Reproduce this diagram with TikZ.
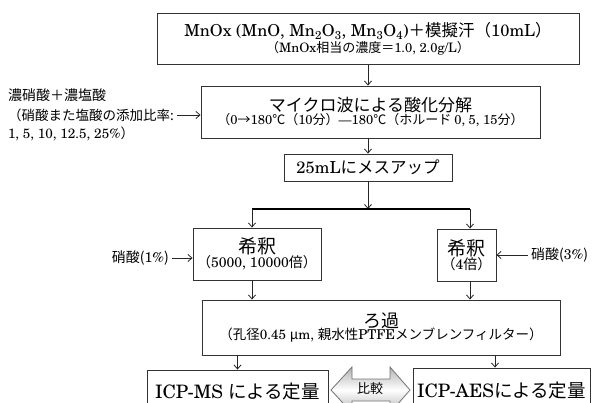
\documentclass[tikz,border=0pt]{standalone}
\usepackage{fontspec}
\setmainfont{TeX Gyre Schola}
\newfontfamily\jp{Noto Sans CJK JP}
\usetikzlibrary{arrows.meta}
\begin{document}
\begin{tikzpicture}[x=1pt,y=-1pt,
  box/.style={draw=black!80, line width=0.9pt, inner sep=0pt, align=center, fill=white},
  arr/.style={-{Straight Barb[length=4pt,width=7pt]}, line width=0.8pt, draw=black!85},
  lbl/.style={inner sep=0pt, anchor=west}]
\useasboundingbox (0,0) rectangle (593,403);
\clip (0,0) rectangle (593,403);

% top box
\node[box, minimum width=422pt, minimum height=51pt] (top) at (368,39)
 {{\fontsize{16.5}{22}\selectfont MnOx (MnO, Mn\textsubscript{2}O\textsubscript{3}, Mn\textsubscript{3}O\textsubscript{4}){\jp ＋模擬汗（}10mL{\jp ）}}\\[1pt]
  {\fontsize{13}{15}\selectfont {\jp （}MnOx{\jp 相当の濃度＝}1.0, 2.0g/L{\jp ）}}};

% microwave box
\node[box, minimum width=339pt, minimum height=52pt] (mw) at (370.5,112)
 {{\fontsize{17}{22}\selectfont\jp マイクロ波による酸化分解}\\[-1pt]
  {\fontsize{13}{16}\selectfont {\jp （}0{\jp →}180{\jp ℃（}10{\jp 分）}—180{\jp ℃（ホルード }0, 5, 15{\jp 分）}}};

% left label
\node[lbl] (l1) at (8,95) {\fontsize{14}{16}\selectfont\jp 濃硝酸＋濃塩酸};
\node[lbl] (l2) at (8,115) {\fontsize{13.5}{16}\selectfont\jp （硝酸また塩酸の添加比率:};
\node[lbl] (l3) at (8,134) {\fontsize{13.5}{16}\selectfont 1, 5, 10, 12.5, 25\%{\jp ）}};
\draw[arr] (l2.east) ++(3,0) coordinate (l2a) -- (l2a -| mw.west);

% 25 mL box
\node[box, minimum width=168pt, minimum height=27pt] (ms) at (368,167.5)
 {\fontsize{16.5}{20}\selectfont 25mL{\jp にメスアップ}};

% split line
\coordinate (sp) at (368,209);
\coordinate (spl) at (252,209);
\coordinate (spr) at (470,209);
\draw[arr] (top.south) -- (mw.north -| top.south);
\draw[arr] (mw.south -| ms.north) -- (ms.north);
\draw[arr] (ms.south) -- (sp);
\draw[line width=2.4pt] (spl) -- (spr);

% dilution boxes
\node[box, minimum width=128pt, minimum height=52pt] (lb) at (257,254)
 {{\fontsize{19}{22}\selectfont\jp 希釈}\\[-1pt]
  {\fontsize{14}{16}\selectfont {\jp （}5000, 10000{\jp 倍）}}};
\node[box, minimum width=59pt, minimum height=52pt] (rb) at (466.5,255)
 {{\fontsize{19}{22}\selectfont\jp 希釈}\\[-1pt]
  {\fontsize{14}{16}\selectfont {\jp （}4{\jp 倍）}}};
\draw[arr] (spl) -- (spl |- lb.north);
\draw[arr] (spr) -- (spr |- rb.north);

\node[lbl, anchor=east] (n1) at (169,258) {\fontsize{14}{16}\selectfont {\jp 硝酸(}1\%{\jp )}};
\node[lbl] (n3) at (531,255) {\fontsize{14}{16}\selectfont {\jp 硝酸(}3\%{\jp )}};
\draw[arr] (n1.east) ++(3,0) coordinate (n1a) -- (n1a -| lb.west);
\draw[arr] (n3.west) ++(-3,0) coordinate (n3a) -- (n3a -| rb.east);

% filtration
\node[box, minimum width=358pt, minimum height=55pt] (fl) at (381,327.5)
 {{\fontsize{18}{22}\selectfont\jp ろ過}\\[-1pt]
  {\fontsize{13.5}{16}\selectfont {\jp （孔径}0.45 {\jp μ}m, {\jp 親水性}PTFE{\jp メンブレンフィルター）}}};
\draw[arr] (spl |- lb.south) -- (spl |- fl.north);
\draw[arr] (spr |- rb.south) -- (spr |- fl.north);

% bottom boxes
\node[box, minimum width=181pt, minimum height=44pt] (ic1) at (237.5,392)
 {\fontsize{18.5}{22}\selectfont ICP-MS {\jp による定量}};
\node[box, minimum width=177pt, minimum height=46pt] (ic2) at (501.5,391)
 {\fontsize{18.5}{22}\selectfont ICP-AES{\jp による定量}};
\draw[arr] (ic1.north |- fl.south) -- (ic1.north);
\draw[arr] (495,0 |- fl.south) coordinate (fr) -- (fr |- ic2.north);

% comparison double arrow
\draw[draw=black!55, line width=0.8pt, top color=black!30, bottom color=black!30, middle color=white]
  (331,390) -- (352,367) -- (352,379) -- (390,379) -- (390,367) -- (410,390)
  -- (390,413) -- (390,401) -- (352,401) -- (352,413) -- cycle;
\node[inner sep=0pt] (cmp) at (370,389) {\fontsize{13}{15}\selectfont\jp 比較};
\end{tikzpicture}
\end{document}
